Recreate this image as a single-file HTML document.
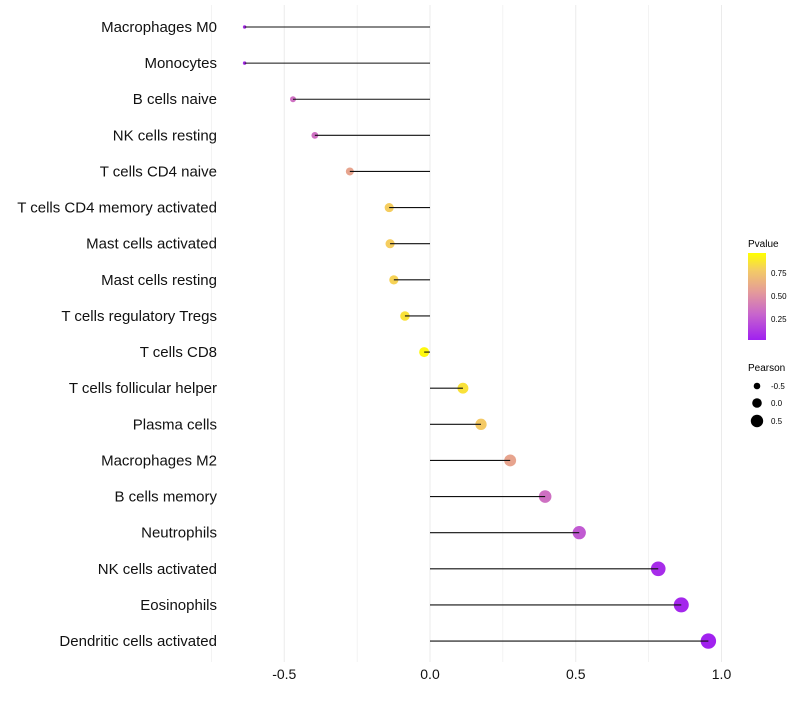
<!DOCTYPE html>
<html><head><meta charset="utf-8"><style>
body{margin:0;background:#fff;font-family:"Liberation Sans",sans-serif}
svg text{font-family:"Liberation Sans",sans-serif}
</style></head><body>
<svg id="c" width="800" height="700">
<defs><linearGradient id="pg" x1="0" y1="1" x2="0" y2="0">
<stop offset="0" stop-color="#A020F0"/><stop offset="0.3" stop-color="#C866CC"/><stop offset="0.55" stop-color="#E49A9A"/><stop offset="0.8" stop-color="#F3CB66"/><stop offset="1" stop-color="#FFFF00"/></linearGradient></defs>
<g id="grid"></g><g id="pts"></g><g id="marks"></g><g id="axes"></g>
<g>
<text x="748" y="247" font-size="10">Pvalue</text>
<rect x="748" y="253" width="18" height="87" fill="url(#pg)"/>
<text x="771" y="276" font-size="8">0.75</text>
<text x="771" y="299" font-size="8">0.50</text>
<text x="771" y="322" font-size="8">0.25</text>
</g>
<g>
<text x="748" y="371" font-size="10">Pearson</text>
<circle cx="757" cy="386" r="3.3" fill="#000"/><text x="771" y="389" font-size="8">-0.5</text>
<circle cx="757" cy="403" r="4.8" fill="#000"/><text x="771" y="406" font-size="8">0.0</text>
<circle cx="757" cy="421" r="6.2" fill="#000"/><text x="771" y="424" font-size="8">0.5</text>
</g>
</svg>
<script>
const categories=["Macrophages M0","Monocytes","B cells naive","NK cells resting","T cells CD4 naive","T cells CD4 memory activated","Mast cells activated","Mast cells resting","T cells regulatory  Tregs ","T cells CD8","T cells follicular helper","Plasma cells","Macrophages M2","B cells memory","Neutrophils","NK cells activated","Eosinophils","Dendritic cells activated"];
const pearson=[-0.636,-0.636,-0.47,-0.395,-0.275,-0.14,-0.137,-0.124,-0.086,-0.02,0.113,0.175,0.275,0.395,0.512,0.783,0.862,0.955];
const pvalues=[0.05,0.05,0.35,0.35,0.6,0.8,0.8,0.82,0.88,0.97,0.88,0.78,0.6,0.35,0.25,0.05,0.03,0.01];
const xTicks=[-0.5,0,0.5,1.0];
const xTickLabels=["-0.5","0.0","0.5","1.0"];
const NS="http://www.w3.org/2000/svg";
const x=v=>430+v*291.5;
const y=i=>27+i*36.12;
const rad=p=>Math.sqrt(Math.max(2,25.7+35.6*p));
function lerp(a,b,t){return a+(b-a)*t}
const stops=[[0,[160,32,240]],[0.3,[200,102,204]],[0.55,[228,154,154]],[0.8,[245,205,95]],[1,[255,255,0]]];
function col(p){for(let k=1;k<stops.length;k++){if(p<=stops[k][0]){const a=stops[k-1],b=stops[k],t=(p-a[0])/(b[0]-a[0]);return `rgb(${a[1].map((c,j)=>Math.round(lerp(c,b[1][j],t))).join(',')})`}}return 'rgb(255,255,0)'}
function mk(t,at,parent){const e=document.createElementNS(NS,t);for(const k in at)e.setAttribute(k,at[k]);document.getElementById(parent).appendChild(e);return e}
[-0.75,-0.5,-0.25,0,0.25,0.5,0.75,1].forEach(v=>{
const g=mk('line',{x1:x(v),x2:x(v),y1:5,y2:662,stroke:'#ebebeb','stroke-width':Number.isInteger(v*2)?1:0.6},'grid');

});
xTicks.forEach((v,i)=>{const t=mk('text',{x:x(v),y:679,'font-size':14,'text-anchor':'middle',fill:'#111'},'axes');t.textContent=xTickLabels[i];

});
categories.forEach((c,i)=>{
const t=mk('text',{x:217,y:y(i)+5,'font-size':15,'text-anchor':'end',fill:'#111'},'axes');t.textContent=c;


const l=mk('line',{x1:x(0),x2:x(pearson[i]),y1:y(i),y2:y(i),stroke:'#111','stroke-width':1.1},'marks');


const p=mk('circle',{cx:x(pearson[i]),cy:y(i),r:rad(pearson[i]),fill:col(pvalues[i])},'pts');


});
</script>
</body></html>
